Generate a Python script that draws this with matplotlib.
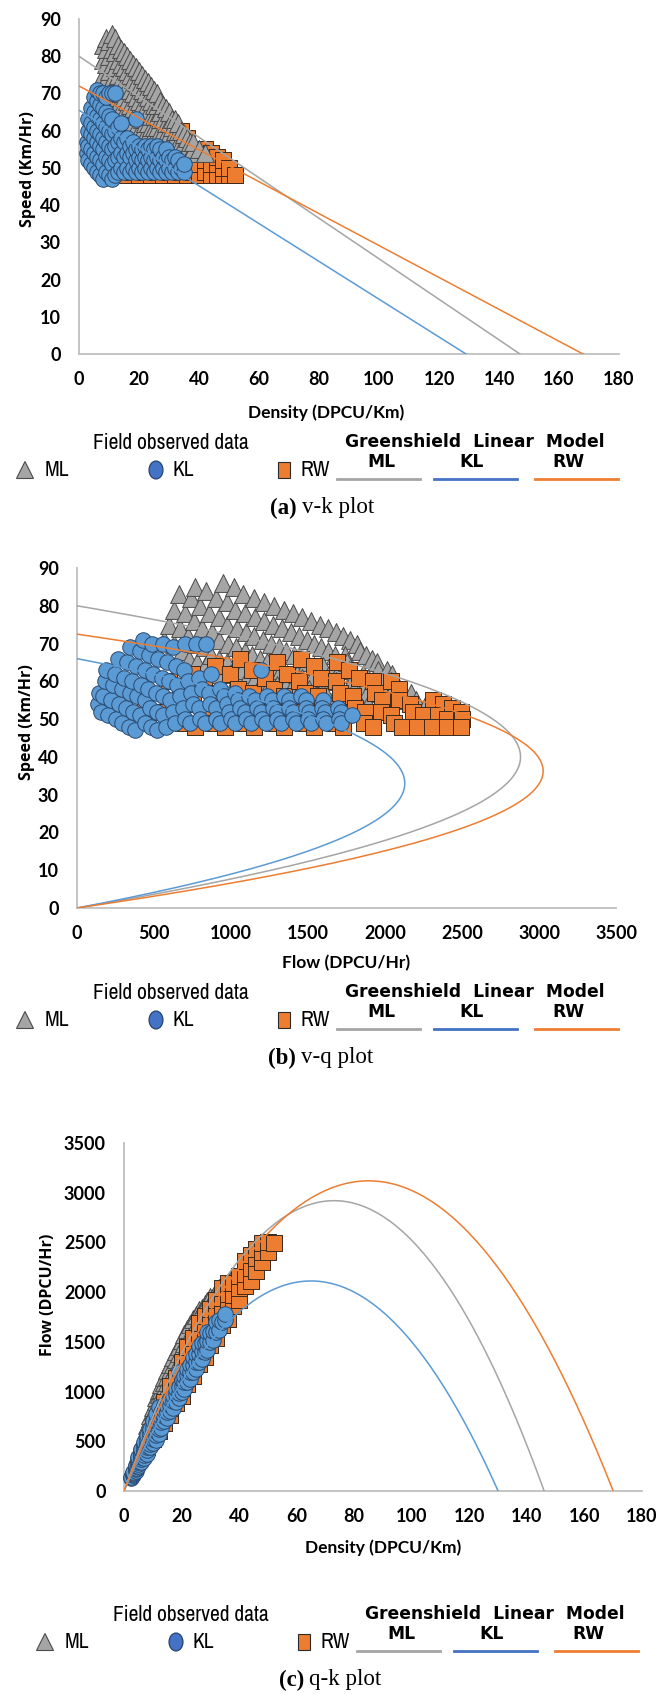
import numpy as np
import matplotlib
matplotlib.use('Agg')
import matplotlib.pyplot as plt
from matplotlib import font_manager as fm
from matplotlib.patches import Polygon, Ellipse, Rectangle

# ---------- field observed data (density DPCU/Km, speed Km/Hr), one line per density column
ml_k = [8, 8, 8, 8,
        9, 9, 9, 9, 9,
        10, 10, 10, 10, 10,
        11, 11, 11, 11, 11, 11,
        12, 12, 12, 12, 12, 12,
        13, 13, 13, 13, 13, 13,
        14, 14, 14, 14, 14, 14,
        15, 15, 15, 15, 15, 15,
        16, 16, 16, 16, 16, 16,
        17, 17, 17, 17, 17, 17,
        18, 18, 18, 18, 18,
        19, 19, 19, 19, 19,
        20, 20, 20, 20, 20,
        21, 21, 21, 21, 21,
        22, 22, 22, 22, 22,
        23, 23, 23, 23, 23,
        24, 24, 24, 24, 24,
        25, 25, 25, 25, 25,
        26, 26, 26, 26, 26,
        27, 27, 27, 27, 27,
        28, 28, 28, 28,
        29, 29, 29, 29,
        30, 30, 30, 30,
        31, 31, 31, 31,
        32, 32, 32, 32,
        33, 33, 33, 33,
        34, 34, 34,
        35, 35, 35,
        36, 36,
        37, 37,
        38, 38,
        40, 42]
ml_v = [71, 75, 79, 83,
        70, 74, 78, 82, 85,
        68, 72, 76, 80, 84,
        66, 70, 74, 78, 82, 86,
        65, 69, 73, 77, 81, 85,
        64, 67, 71, 75, 79, 83,
        63, 66, 70, 74, 78, 82,
        62, 65, 69, 73, 77, 81,
        62, 64, 68, 72, 76, 80,
        61, 63, 67, 71, 75, 79,
        62, 66, 70, 74, 78,
        61, 65, 69, 73, 77,
        60, 64, 68, 72, 76,
        60, 63, 67, 71, 75,
        59, 62, 66, 70, 74,
        59, 62, 65, 69, 73,
        58, 61, 64, 68, 72,
        58, 61, 64, 67, 71,
        58, 61, 64, 67, 70,
        57, 60, 63, 65, 68,
        57, 60, 63, 67,
        56, 59, 62, 66,
        56, 59, 62, 65,
        55, 58, 61, 63,
        55, 58, 60, 63,
        54, 57, 60, 62,
        54, 57, 60,
        54, 57, 59,
        55, 58,
        54, 57,
        55, 57,
        55, 54]

kl_k = [2.5, 2.5,
        3, 3, 3, 3,
        4, 4, 4, 4, 4,
        5, 5, 5, 5, 5, 5,
        6, 6, 6, 6, 6, 6, 6,
        7, 7, 7, 7, 7, 7, 7,
        8, 8, 8, 8, 8, 8, 8,
        9, 9, 9, 9, 9, 9,
        10, 10, 10, 10, 10, 10,
        11, 11, 11, 11, 11, 11,
        12, 12, 12, 12, 12,
        13, 13, 13, 13,
        14, 14, 14, 14,
        15, 15, 15,
        16, 16, 16,
        17, 17, 17,
        18, 18, 18,
        19, 19, 19, 19,
        20, 20, 20,
        21, 21, 21,
        22, 22, 22,
        23, 23, 23,
        24, 24, 24,
        25, 25, 25,
        26, 26, 26,
        27, 27, 27,
        28, 28,
        29, 29, 29,
        30, 30,
        31, 31,
        32, 32,
        33, 33,
        34,
        35, 35]
kl_v = [54, 57,
        52, 56, 60, 63,
        51, 55, 59, 62, 66,
        50, 54, 58, 61, 65, 69,
        49, 53, 57, 60, 64, 68, 71,
        48, 52, 56, 59, 63, 67, 70,
        47, 51, 55, 58, 62, 66, 70,
        49, 53, 57, 61, 65, 69,
        48, 52, 56, 60, 64, 70,
        47, 51, 55, 59, 63, 70,
        48, 52, 56, 60, 70,
        49, 53, 57, 61,
        50, 54, 58, 62,
        49, 53, 57,
        50, 54, 58,
        49, 53, 56,
        50, 54, 57,
        49, 52, 55, 63,
        50, 53, 56,
        49, 52, 55,
        50, 53, 56,
        49, 52, 55,
        50, 53, 56,
        49, 52, 55,
        50, 53, 56,
        49, 52, 55,
        50, 53,
        49, 52, 55,
        50, 53,
        49, 52,
        50, 53,
        49, 52,
        50,
        49, 51]

rw_k = [8,
        10, 10,
        12, 12, 12,
        14, 14, 14, 14,
        16, 16, 16, 16, 16,
        18, 18, 18, 18,
        20, 20, 20, 20, 20,
        22, 22, 22, 22, 22,
        24, 24, 24, 24, 24,
        26, 26, 26, 26, 26,
        28, 28, 28, 28, 28,
        30, 30, 30, 30,
        32, 32, 32, 32,
        34, 34, 34, 34,
        36, 36, 36, 36,
        38, 38, 38,
        40, 40, 40,
        42, 42, 42,
        44, 44, 44,
        46, 46, 46,
        48, 48, 48,
        50, 50,
        52]
rw_v = [55,
        52, 60,
        50, 56, 62,
        49, 54, 59, 64,
        48, 52, 57, 62, 66,
        49, 53, 58, 63,
        48, 52, 57, 61, 65,
        49, 53, 58, 62, 66,
        48, 52, 56, 60, 64,
        49, 53, 57, 61, 65,
        48, 52, 56, 60, 63,
        49, 53, 57, 61,
        48, 52, 56, 60,
        49, 53, 57, 60,
        48, 52, 55, 58,
        49, 52, 55,
        48, 51, 54,
        49, 52, 55,
        48, 51, 54,
        48, 51, 53,
        48, 50, 52,
        48, 50,
        48]

# ---------- Greenshield linear model parameters (free speed, jam density) for ML, KL, RW
vk_vf = [80, 65.5, 72]
vk_kj = [147, 129, 168]
vq_vf = [80, 66, 72.5]
vq_kj = [144, 129, 167]
qk_vf = [80, 65, 73.4]
qk_kj = [146, 130, 170]

names = ['ML', 'KL', 'RW']
line_cols = ['#A5A5A5', '#5B9BD5', '#ED7D31']

ml_k, ml_v = np.array(ml_k, float), np.array(ml_v, float)
kl_k, kl_v = np.array(kl_k, float), np.array(kl_v, float)
rw_k, rw_v = np.array(rw_k, float), np.array(rw_v, float)
# flow = density * speed
ml_q, kl_q, rw_q = ml_k * ml_v, kl_k * kl_v, rw_k * rw_v

# narrow font for the "Field observed data" legend, if any is installed
narrow = dict(family='Roboto', size=13.5)
for f in fm.fontManager.ttflist:
    if 'Narrow' in f.name or 'Condensed' in f.name:
        narrow = dict(family=f.name, size=15.5)
        break
else:
    for f in fm.fontManager.ttflist:
        if f.name == 'DejaVu Sans' and f.stretch == 'condensed' and f.weight in (400, 'normal'):
            narrow = dict(family='DejaVu Sans', stretch='condensed', size=13)
            break

W, H = 660, 1694
fig = plt.figure(figsize=(W / 100, H / 100), dpi=100)


def add_ax(l, t, r, b):
    ax = fig.add_axes([l / W, 1 - b / H, (r - l) / W, (b - t) / H])
    for s in ['top', 'right']:
        ax.spines[s].set_visible(False)
    for s in ['left', 'bottom']:
        ax.spines[s].set_color('#BFBFBF')
        ax.spines[s].set_linewidth(1.3)
    ax.tick_params(length=0, labelsize=13)
    ax.tick_params(axis='x', pad=12)
    ax.tick_params(axis='y', pad=13)
    ax.set_facecolor('none')
    return ax


def scatter_all(ax, x_ml, y_ml, x_kl, y_kl, x_rw, y_rw, rw_on_top=False):
    z_rw, z_ml = (3, 2) if rw_on_top else (2, 3)
    ax.scatter(x_rw, y_rw, marker='s', s=120, c='#ED7D31', edgecolors='#3B2A1E',
               linewidths=0.7, zorder=z_rw, clip_on=False)
    ax.scatter(x_ml, y_ml, marker='^', s=165, c='#A5A5A5', edgecolors='#4A4A4A',
               linewidths=0.7, zorder=z_ml, clip_on=False)
    ax.scatter(x_kl, y_kl, marker='o', s=125, c='#5B9BD5', edgecolors='#2A4A70',
               linewidths=0.7, zorder=4, clip_on=False)


def style_ticks(ax):
    for lab in ax.get_xticklabels() + ax.get_yticklabels():
        lab.set_fontfamily('Lato')
        lab.set_fontweight('bold')


# ---------- (a) v-k
ax1 = add_ax(79, 19, 619, 354)
scatter_all(ax1, ml_k, ml_v, kl_k, kl_v, rw_k, rw_v)
for i in range(3):
    ax1.plot([0, vk_kj[i]], [vk_vf[i], 0], color=line_cols[i], lw=1.1, zorder=5)
ax1.set_xlim(0, 180)
ax1.set_ylim(0, 90)
ax1.set_xticks(np.arange(0, 181, 20))
ax1.set_yticks(np.arange(0, 91, 10))
style_ticks(ax1)

# ---------- (b) v-q
ax2 = add_ax(77, 568, 616, 908)
scatter_all(ax2, ml_q, ml_v, kl_q, kl_v, rw_q, rw_v, rw_on_top=True)
for i in range(3):
    v = np.linspace(0, vq_vf[i], 300)
    ax2.plot(vq_kj[i] * (v - v ** 2 / vq_vf[i]), v, color=line_cols[i], lw=1.1, zorder=5)
ax2.set_xlim(0, 3500)
ax2.set_ylim(0, 90)
ax2.set_xticks(np.arange(0, 3501, 500))
ax2.set_yticks(np.arange(0, 91, 10))
style_ticks(ax2)

# ---------- (c) q-k
ax3 = add_ax(124, 1143, 642, 1491)
scatter_all(ax3, ml_k, ml_q, kl_k, kl_q, rw_k, rw_q, rw_on_top=True)
for i in range(3):
    k = np.linspace(0, qk_kj[i], 300)
    ax3.plot(k, qk_vf[i] * k * (1 - k / qk_kj[i]), color=line_cols[i], lw=1.1, zorder=5)
ax3.set_xlim(0, 180)
ax3.set_ylim(0, 3500)
ax3.set_xticks(np.arange(0, 181, 20))
ax3.set_yticks(np.arange(0, 3501, 500))
style_ticks(ax3)

# ---------- overlay in pixel coordinates for labels, legends and captions
ov = fig.add_axes([0, 0, 1, 1], zorder=10)
ov.set_xlim(0, W)
ov.set_ylim(H, 0)
ov.axis('off')

ylab = dict(family='Open Sans', weight='bold', size=11.5, rotation=90, ha='center', va='center')
xlab = dict(family='Lato', weight='bold', size=12.5, ha='center', va='center')
ov.text(28, 169, 'Speed (Km/Hr)', **ylab)
ov.text(326, 413, 'Density (DPCU/Km)', **xlab)
ov.text(27, 722, 'Speed (Km/Hr)', **ylab)
ov.text(346, 963, 'Flow (DPCU/Hr)', **xlab)
ov.text(48, 1295, 'Flow (DPCU/Hr)', **ylab)
ov.text(383, 1548, 'Density (DPCU/Km)', **xlab)

head = dict(family='DejaVu Sans', weight='bold', size=12.3, va='center')
leg_line_cols = ['#A5A5A5', '#4472C4', '#ED7D31']


def legend(y0, dx, caption, cap_x):
    # y0 = centre line of "Field observed data"
    ov.text(171 + dx, y0, 'Field observed data', ha='center', va='center', **narrow)
    ov.text(345 + dx, y0 - 1, 'Greenshield  Linear  Model', ha='left', **head)
    yk = y0 + 27
    tx, ty = 25 + dx, yk
    ov.add_patch(Polygon([[tx - 8.5, ty + 8.5], [tx + 8.5, ty + 8.5], [tx, ty - 8.5]],
                         closed=True, fc='#A5A5A5', ec='#4A4A4A', lw=0.8))
    ov.add_patch(Ellipse((156 + dx, yk), 14, 18, fc='#4472C4', ec='#1F3A66', lw=0.8))
    ov.add_patch(Rectangle((278 + dx, yk - 8), 12, 16, fc='#ED7D31', ec='#2B2B2B', lw=0.8))
    ov.text(45 + dx, yk, 'ML', ha='left', va='center', **narrow)
    ov.text(173 + dx, yk, 'KL', ha='left', va='center', **narrow)
    ov.text(301 + dx, yk, 'RW', ha='left', va='center', **narrow)
    spans = [(337, 420), (434, 517), (535, 618)]
    lab_x = [381, 472, 568]
    for i in range(3):
        a, b = spans[i]
        ov.plot([a + dx, b + dx], [y0 + 36, y0 + 36], color=leg_line_cols[i], lw=2)
        ov.text(lab_x[i] + dx, y0 + 19, names[i], ha='center', **head)
    ov.text(cap_x, y0 + 65, caption[0], family='Liberation Serif', weight='bold',
            size=16.5, ha='right', va='center')
    ov.text(cap_x + 5, y0 + 65, caption[1], family='Liberation Serif', size=16.5,
            ha='left', va='center')


legend(443, 0, ('(a)', 'v-k plot'), 297)
legend(993, 0, ('(b)', 'v-q plot'), 296)
legend(1615, 20, ('(c)', 'q-k plot'), 304)

fig.savefig('out.png', dpi=100)
